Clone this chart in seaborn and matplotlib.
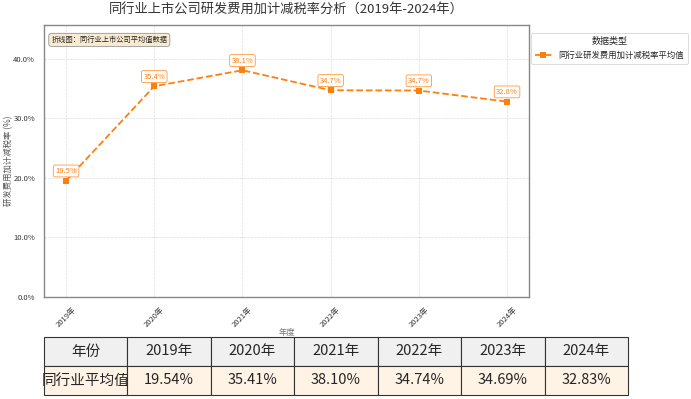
import pandas as pd
import seaborn as sns
import matplotlib.pyplot as plt

years = ['2019年', '2020年', '2021年', '2022年', '2023年', '2024年']
rates = [19.54, 35.41, 38.10, 34.74, 34.69, 32.83]
series_name = '同行业研发费用加计减税率平均值'
row_header = '年份'
row_name = '同行业平均值'

sns.set_style('white')
plt.rcParams['font.family'] = ['Noto Sans CJK SC', 'DejaVu Sans']
plt.rcParams['axes.unicode_minus'] = False

orange = '#ff7f0e'
df = pd.DataFrame({'year': years, 'rate': rates, 'type': series_name})

fig = plt.figure(figsize=(6.91, 3.99), dpi=100)
ax = fig.add_axes([0.0637, 0.2556, 0.702, 0.682])

sns.lineplot(data=df, x='year', y='rate', hue='type', palette=[orange],
             marker='s', markersize=4, markeredgewidth=0, linestyle='--',
             linewidth=1.3, sort=False, ax=ax)

for i, v in enumerate(rates):
    ax.annotate(f'{v:.1f}%', (i, v), xytext=(0, 7), textcoords='offset points',
                ha='center', va='center', fontsize=5.5, color=orange,
                bbox=dict(boxstyle='round,pad=0.25', fc='white', ec=orange, lw=0.6, alpha=0.8))

ax.set_xlim(-0.25, 5.25)
ax.set_ylim(0, max(rates) * 1.2)
ax.yaxis.set_major_formatter(plt.FuncFormatter(lambda v, p: f'{v:.1f}%'))
ax.set_yticks([0, 10, 20, 30, 40])
ax.tick_params(axis='both', labelsize=5.5, length=3, width=0.6, colors='#333333')
plt.setp(ax.get_xticklabels(), rotation=45)
ax.grid(True, linestyle='--', linewidth=0.5, color='#dddddd')
for s in ax.spines.values():
    s.set_color('#888888')
    s.set_linewidth(1.0)
ax.set_xlabel('年度', fontsize=6, color='#777777')
ax.xaxis.set_label_coords(0.5, -0.115)
ax.set_ylabel('研发费用加计减税率 (%)', fontsize=6, color='#555555')
ax.yaxis.set_label_coords(-0.064, 0.5)
ax.set_title('同行业上市公司研发费用加计减税率分析（2019年-2024年）', fontsize=9.5, color='#333333', pad=8)

ax.text(0.015, 0.945, '折线图：同行业上市公司平均值数据', transform=ax.transAxes,
        fontsize=5.2, va='center', ha='left',
        bbox=dict(boxstyle='round,pad=0.35', fc='wheat', ec='#555555', lw=0.6, alpha=0.6))

leg = ax.legend(title='数据类型', loc='upper left', bbox_to_anchor=(0.995, 0.985),
                fontsize=6, title_fontsize=6.5, frameon=True, handlelength=2.0,
                borderpad=0.5)
leg.get_frame().set_edgecolor('#cccccc')
leg.get_frame().set_linewidth(0.6)

# table under the chart
ax_tab = fig.add_axes([44 / 691, 4 / 399, 584 / 691, 58 / 399])
ax_tab.axis('off')
ax_tab.set_zorder(-1)
cells = [[row_header] + years, [row_name] + [f'{v:.2f}%' for v in rates]]
tab = ax_tab.table(cellText=cells, bbox=[0, 0, 1, 1], cellLoc='center')
tab.auto_set_font_size(False)
tab.set_fontsize(10.5)
for (r, c), cell in tab.get_celld().items():
    cell.set_edgecolor('#333333')
    cell.set_linewidth(0.8)
    cell.set_facecolor('#f0f0f0' if r == 0 else '#fff3e6')

fig.savefig('out.png', dpi=100)
